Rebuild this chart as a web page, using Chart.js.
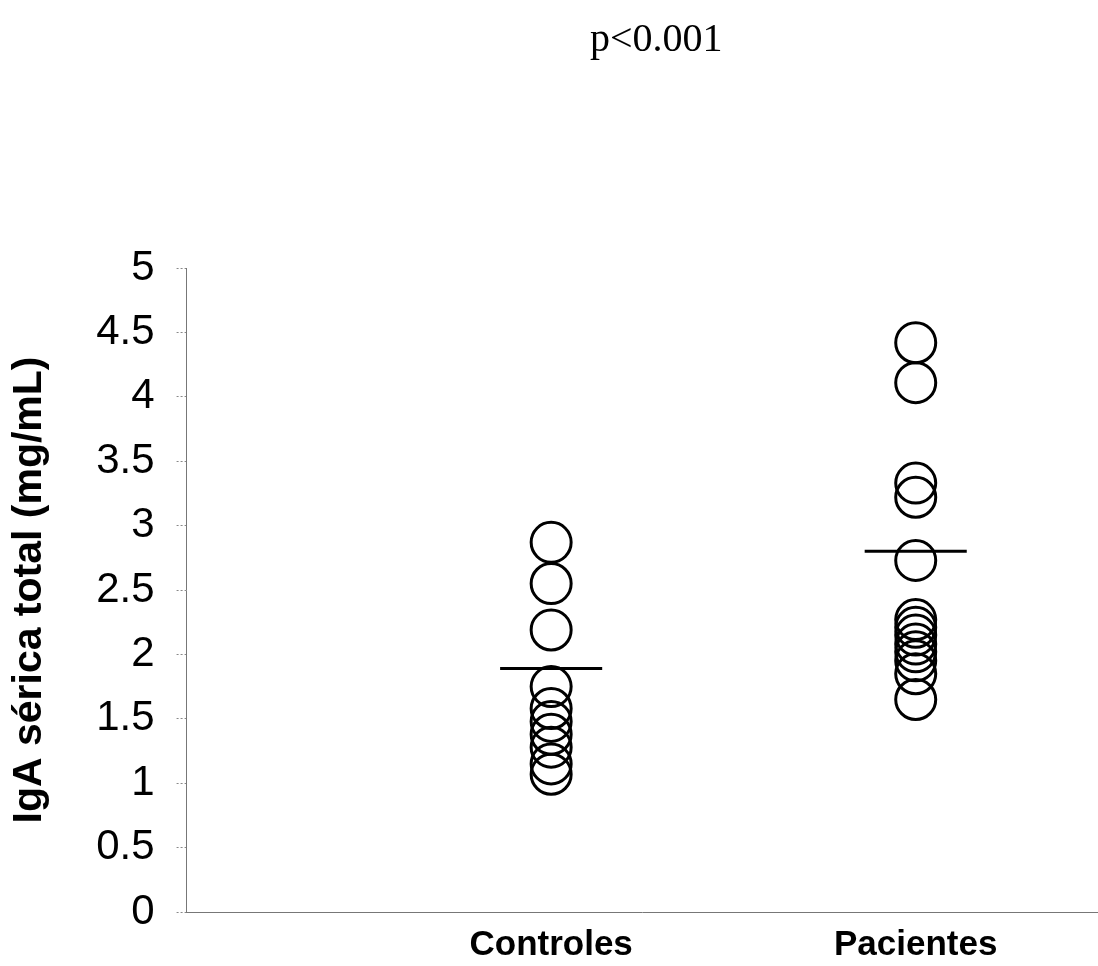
<!DOCTYPE html>
<html>
<head>
<meta charset="utf-8">
<script src="https://cdn.jsdelivr.net/npm/chart.js@4"></script>
<style>
  html, body { margin: 0; padding: 0; background: #fff; }
  #wrap { width: 1098px; height: 966px; }
</style>
</head>
<body>
<div id="wrap"><canvas id="c" width="1098" height="966"></canvas></div>
<script>
// valores (IgA sérica total, mg/mL)
const categories = ['Controles', 'Pacientes'];
const controles = [2.87, 2.55, 2.19, 1.75, 1.58, 1.48, 1.38, 1.28, 1.15, 1.07];
const pacientes = [4.42, 4.11, 3.33, 3.22, 2.73, 2.27, 2.21, 2.15, 2.08, 2.02, 1.95, 1.85, 1.65];
const meanValues = [1.89, 2.80];
const yTicks = [0, 0.5, 1, 1.5, 2, 2.5, 3, 3.5, 4, 4.5, 5];
const pLabel = 'p<0.001';

const halfWidth = 0.14; // meia largura da linha da média (unidades do eixo x)

function points(vals, pos) {
    return vals.map(v => ({ x: pos, y: v }));
}

const circleStyle = {
    type: 'scatter',
    pointRadius: 20,
    pointBorderWidth: 3,
    pointBorderColor: '#000',
    pointBackgroundColor: 'rgba(0,0,0,0)'
};

const datasets = [
    { ...circleStyle, data: points(controles, 1) },
    { ...circleStyle, data: points(pacientes, 2) }
];

meanValues.forEach((m, i) => {
    datasets.push({
        type: 'line',
        data: [{ x: i + 1 - halfWidth, y: m }, { x: i + 1 + halfWidth, y: m }],
        borderColor: '#000',
        borderWidth: 3,
        pointRadius: 0,
        fill: false
    });
});

// texto "p<0.001" acima da área do gráfico
const pValuePlugin = {
    id: 'pValue',
    afterDraw(chart) {
        const { ctx, chartArea } = chart;
        ctx.save();
        ctx.fillStyle = '#000';
        ctx.font = '40px "Liberation Serif", serif';
        ctx.textAlign = 'center';
        ctx.textBaseline = 'middle';
        ctx.fillText(pLabel, (chartArea.left + chartArea.right) / 2 + 14, 40);
        ctx.restore();
    }
};

new Chart(document.getElementById('c'), {
    type: 'scatter',
    data: { datasets },
    plugins: [pValuePlugin],
    options: {
        responsive: false,
        animation: false,
        layout: { autoPadding: false, padding: { top: 268, right: 0, bottom: 0, left: 5 } },
        plugins: {
            legend: { display: false },
            tooltip: { enabled: false },
            title: { display: false }
        },
        scales: {
            x: {
                type: 'linear',
                min: 0,
                max: 2.5,
                afterBuildTicks: axis => { axis.ticks = [{ value: 1 }, { value: 2 }]; },
                afterFit: axis => { axis.paddingLeft = 0; axis.paddingRight = 0; axis.height = 54; },
                ticks: {
                    color: '#000',
                    font: { family: '"Liberation Sans", Arial, sans-serif', size: 35, weight: 'bold' },
                    padding: 12,
                    callback: v => categories[v - 1]
                },
                grid: { drawOnChartArea: false, drawTicks: false },
                border: { color: '#777', dash: [2, 2], width: 1 }
            },
            y: {
                min: 0,
                max: 5,
                afterBuildTicks: axis => { axis.ticks = yTicks.map(v => ({ value: v })); },
                afterFit: axis => { axis.paddingTop = 0; axis.paddingBottom = 0; },
                ticks: {
                    color: '#000',
                    font: { family: '"Liberation Sans", Arial, sans-serif', size: 42 },
                    padding: 22,
                    callback: v => String(v)
                },
                grid: { drawOnChartArea: false, drawTicks: true, tickLength: 10, color: '#888', tickBorderDash: [2, 2] },
                border: { color: '#777', dash: [2, 2], width: 1 },
                title: {
                    display: true,
                    text: 'IgA sérica total (mg/mL)',
                    color: '#000',
                    font: { family: '"Liberation Sans", Arial, sans-serif', size: 41, weight: 'bold' },
                    padding: { top: 0, bottom: 20 }
                }
            }
        }
    }
});
</script>
</body>
</html>
